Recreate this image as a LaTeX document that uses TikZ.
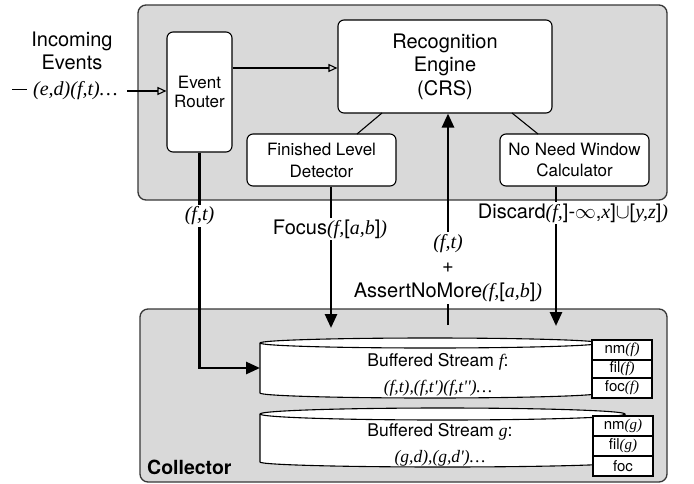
\documentclass[tikz,border=0pt]{standalone}
\usepackage{fontspec}
\setmainfont{TeX Gyre Heros}
\newfontfamily\tms{Liberation Serif}
\usetikzlibrary{arrows.meta}
\definecolor{panelgray}{RGB}{217,217,217}
\definecolor{edgegray}{RGB}{55,55,55}
\newcommand{\ti}[1]{{\tms\itshape #1}}
\begin{document}
\begin{tikzpicture}[x=1pt,y=-1pt,
  panel/.style={draw=edgegray,line width=1.3pt,fill=panelgray,rounded corners=8pt},
  unit/.style={draw=black,line width=1.1pt,fill=white,rounded corners=6pt},
  thin/.style={line width=1.1pt},
  openarrow/.style={thin,-{Triangle[open,length=9pt,width=8pt]}},
  flow/.style={line width=2.7pt,-{Triangle[length=14pt,width=12pt]}},
  lab/.style={fill=white,inner sep=2pt,font=\fontsize{20}{24.5}\selectfont,align=center},
  cell/.style={draw=black,line width=1.1pt,fill=white},
  celltext/.style={font=\fontsize{15}{18}\selectfont},
  drum/.style={draw=black,line width=1.1pt,fill=white},
]
\useasboundingbox (0,0) rectangle (694,483);
\fill[white] (0,0) rectangle (694,483);

% processing panel
\path[panel] (138,5) rectangle (667,200);

\node[unit,minimum width=65pt,minimum height=120pt,align=center,
  font=\fontsize{17}{19.5}\selectfont] (router) at (199.5,92) {Event\\Router};
\node[unit,minimum width=214pt,minimum height=93pt,align=center,
  font=\fontsize{20}{23.5}\selectfont] (engine) at (445,66.5) {Recognition\\Engine\\(CRS)};
\node[unit,minimum width=149pt,minimum height=52pt,align=center,
  font=\fontsize{17}{22}\selectfont] (fld) at (321.5,160) {Finished Level\\Detector};
\node[unit,minimum width=149pt,minimum height=52pt,align=center,
  font=\fontsize{17}{21}\selectfont] (nnw) at (574.5,160) {No Need Window\\Calculator};

% incoming stream
\node[align=center,font=\fontsize{20}{23}\selectfont] (incoming) at (72,51) {Incoming\\Events};
\node[anchor=west,inner sep=0pt,font=\fontsize{20}{24}\selectfont] (events) at (12,91)
  {\rule[0.3em]{15pt}{1.1pt}\hspace{6pt}\ti{(e,d)(f,t)\dots}};
\coordinate (inStart) at (127,91);
\draw[openarrow] (inStart) -- (router.west |- inStart);

\draw[openarrow] (router.east |- 0,68) -- (engine.west |- 0,68);
\draw[thin] (357,134) -- (382,113);
\draw[thin] (538,134) -- (512,113);

% collector panel
\path[panel] (140,309) rectangle (667,482);
\node[anchor=west,font=\bfseries\fontsize{19.5}{22}\selectfont,inner sep=0pt] (collector) at (147,467) {Collector};

% buffered stream f
\path[drum]
  (260,343) -- (260,393) arc[start angle=180,end angle=0,x radius=170,y radius=5]
  -- (600,343) arc[start angle=0,end angle=-180,x radius=170,y radius=5] -- cycle;
\draw[line width=1.1pt] (260,343) arc[start angle=180,end angle=0,x radius=170,y radius=5];
\node[align=center,font=\fontsize{17.5}{26}\selectfont] (bufF) at (438,375)
  {Buffered Stream \ti{f}:\\ \ti{(f,t),(f,t')(f,t'')\dots}};
\coordinate (bufFwest) at (260,368);

% buffered stream g
\path[drum]
  (260,414) -- (260,462) arc[start angle=180,end angle=0,x radius=182.5,y radius=5]
  -- (625,414) arc[start angle=0,end angle=-180,x radius=182.5,y radius=6] -- cycle;
\draw[line width=1.1pt] (260,414) arc[start angle=180,end angle=0,x radius=182.5,y radius=6];
\node[align=center,font=\fontsize{17.5}{26}\selectfont] (bufG) at (440,445)
  {Buffered Stream \ti{g}:\\ \ti{(g,d),(g,d')\dots}};

% marker cells
\node[cell,celltext,minimum width=60pt,minimum height=20pt,inner sep=0pt] (nmf) at (622,350) {nm\ti{(f)}};
\node[cell,celltext,minimum width=60pt,minimum height=18pt,inner sep=0pt] (filf) at (622,369) {fil\ti{(f)}};
\node[cell,celltext,minimum width=60pt,minimum height=20pt,inner sep=0pt] (focf) at (622,388) {foc\ti{(f)}};
\node[cell,celltext,minimum width=60pt,minimum height=20pt,inner sep=0pt] (nmg) at (623,426) {nm\ti{(g)}};
\node[cell,celltext,minimum width=60pt,minimum height=20pt,inner sep=0pt] (filg) at (623,446) {fil\ti{(g)}};
\node[cell,celltext,minimum width=60pt,minimum height=20pt,inner sep=0pt] (focg) at (623,466) {foc};

% router output to stream f
\draw[flow] (router.south) -- (router.south |- bufFwest) -- (bufFwest);
\node[lab] (ftA) at (199.5,216) {\ti{(f,t)}};

% feedback to the engine
\coordinate (assertStart) at (448,325);
\draw[flow] (assertStart) -- (engine.south -| assertStart);
\node[lab] (assert) at (448,268) {\ti{(f,t)}\\+\\AssertNoMore\ti{(f,}[\ti{a,b}]\ti{)}};

% focus
\coordinate (focusEnd) at (331,328);
\draw[flow] (fld.south -| focusEnd) -- (focusEnd);
\node[lab] (focus) at (330,229) {Focus\ti{(f,}[\ti{a,b}]\ti{)}};

% discard
\coordinate (discardEnd) at (556,326);
\draw[flow] (nnw.south -| discardEnd) -- (discardEnd);
\node[lab] (discard) at (573,213) {Discard\ti{(f,}]-$\infty$,\ti{x}]$\cup$[\ti{y,z}]\ti{)}};
\end{tikzpicture}
\end{document}
